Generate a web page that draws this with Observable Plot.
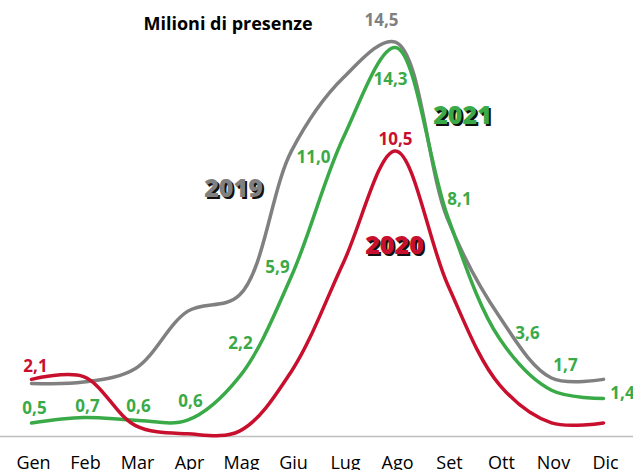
<!DOCTYPE html>
<html>
<head>
<meta charset="utf-8">
<script src="https://cdn.jsdelivr.net/npm/d3@7"></script>
<script src="https://cdn.jsdelivr.net/npm/@observablehq/plot@0.6"></script>
<style>
  html, body { margin: 0; padding: 0; background: #fff; }
  #chart svg { display: block; }
</style>
</head>
<body>
<div id="chart"></div>
<script>
// ---- data ----
const months = ["Gen","Feb","Mar","Apr","Mag","Giu","Lug","Ago","Set","Ott","Nov","Dic"];
const v2019 = [1.95, 2.0, 2.5, 4.6, 5.2, 10.5, 13.2, 14.5, 8.0, 4.4, 2.15, 2.1];
const v2020 = [2.1, 2.2, 0.4, 0.1, 0.2, 2.4, 6.4, 10.5, 5.6, 1.9, 0.5, 0.5];
const v2021 = [0.5, 0.7, 0.6, 0.6, 2.2, 5.9, 11.0, 14.3, 8.1, 3.6, 1.7, 1.4];
const seriesNames = ["2019", "2020", "2021"];
const titleText = "Milioni di presenze";

// labelled points per series
const labelled2019 = ["Ago"];
const labelled2020 = ["Gen", "Ago"];
const labelled2021 = months;

// ---- styling / layout ----
const colors = {"2019": "#808080", "2020": "#c8102e", "2021": "#3aaa48"};
const labelOffsets = {
  "2019-Ago": [-14, -22],
  "2020-Gen": [4, -13], "2020-Ago": [0, -11],
  "2021-Gen": [3, -14], "2021-Feb": [4, -11], "2021-Mar": [3, -14], "2021-Apr": [3, -19],
  "2021-Mag": [1, -33], "2021-Giu": [-14, -8], "2021-Lug": [-30, 20], "2021-Ago": [-5, 32],
  "2021-Set": [12, -17], "2021-Ott": [28, -5], "2021-Nov": [14, -25], "2021-Dic": [19, -5]
};
const nameOffsets = {"2019": [205, 160], "2020": [366, 217], "2021": [434, 87]};

const valuesBy = {"2019": v2019, "2020": v2020, "2021": v2021};
// draw order: gray, green, red
const drawOrder = ["2019", "2021", "2020"];
const table = drawOrder.flatMap(s => months.map((m, i) => ({series: s, month: m, value: valuesBy[s][i]})));

const labelRows = [
  ...labelled2019.map(m => ({series: "2019", month: m})),
  ...labelled2020.map(m => ({series: "2020", month: m})),
  ...labelled2021.map(m => ({series: "2021", month: m}))
].map(d => ({...d, value: valuesBy[d.series][months.indexOf(d.month)]}));

const fmt = v => v.toFixed(1).replace(".", ",");
const FONT = "Open Sans";

const labelMarks = labelRows.map(d => {
  const off = labelOffsets[d.series + "-" + d.month] || [0, -12];
  return Plot.text([d], {
    x: "month", y: "value", text: r => fmt(r.value),
    dx: off[0], dy: off[1],
    fill: colors[d.series], fontWeight: "bold", fontSize: 17, fontFamily: FONT,
    textAnchor: "middle", lineAnchor: "middle"
  });
});

const nameMarks = seriesNames.flatMap(s => {
  const off = nameOffsets[s];
  const base = {text: d => d, frameAnchor: "top-left", fontSize: 25, fontWeight: 800,
    fontFamily: FONT, textAnchor: "middle", lineAnchor: "middle", letterSpacing: -1};
  return [
    Plot.text([s], {...base, dx: off[0] + 2, dy: off[1] + 2, fill: "#111"}),
    Plot.text([s], {...base, dx: off[0], dy: off[1], fill: colors[s]})
  ];
});

const chart = Plot.plot({
  width: 633,
  height: 470,
  marginLeft: 28,
  marginRight: 27,
  marginTop: 28,
  marginBottom: 34,
  style: {fontFamily: FONT, background: "#fff"},
  x: {type: "point", domain: months, padding: 0, axis: null},
  y: {domain: [0, 15], axis: null},
  color: {domain: seriesNames, range: seriesNames.map(s => colors[s])},
  marks: [
    Plot.ruleY([0], {stroke: "#bfbfbf", strokeWidth: 1.5, insetLeft: -28, insetRight: -27}),
    Plot.line(table, {x: "month", y: "value", z: "series", stroke: "series",
      curve: "catmull-rom", strokeWidth: 3.5, strokeLinecap: "round"}),
    ...labelMarks,
    ...nameMarks,
    Plot.text([titleText], {text: d => d, frameAnchor: "top-left", dx: 115, dy: -4,
      textAnchor: "start", lineAnchor: "middle", fontSize: 18, fontWeight: "bold",
      fill: "#000", fontFamily: FONT}),
    // month labels along the bottom
    Plot.text(months, {x: d => d, text: d => d, frameAnchor: "bottom", dx: 2, dy: 32,
      lineAnchor: "bottom", fontSize: 18, fill: "#000", fontFamily: FONT})
  ]
});
document.getElementById("chart").appendChild(chart);
</script>
</body>
</html>
